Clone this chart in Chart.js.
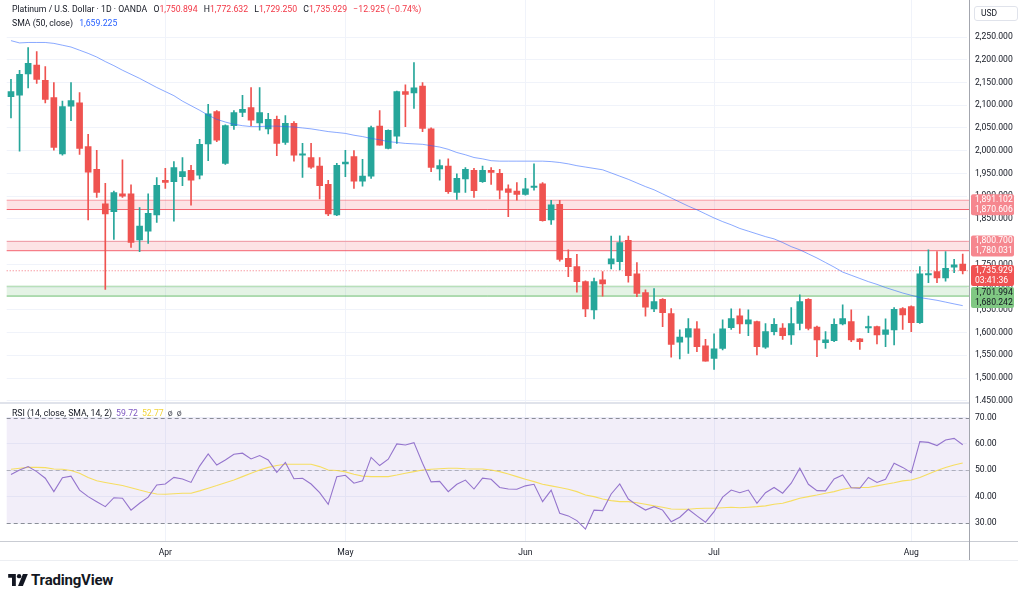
<!DOCTYPE html>
<html>
<head>
<meta charset="utf-8">
<script src="https://cdn.jsdelivr.net/npm/chart.js@4.4.1/dist/chart.umd.min.js"></script>
<style>
    html, body { margin: 0; padding: 0; background: #fff; }
    body { width: 1024px; height: 601px; position: relative; overflow: hidden; font-family: Roboto, 'Noto Sans', sans-serif; color: #131722; }
    #price-wrap { position: absolute; left: 0; top: 0; width: 1024px; height: 403px; }
    #rsi-wrap { position: absolute; left: 0; top: 403px; width: 1024px; height: 157px; }
    .legend { position: absolute; left: 12px; font-size: 8.7px; white-space: nowrap; line-height: 12px; }
    .legend span { margin-right: 4px; }
    .red { color: #f23645; }
    .blue { color: #2962ff; }
    .purple { color: #7e57c2; }
    .yellow { color: #f2d43a; }
    .line { position: absolute; }
    #usd { position: absolute; left: 974px; top: 6px; width: 44px; height: 15px; border: 1px solid #e0e3eb; border-radius: 3px; box-sizing: border-box; font-size: 8.5px; line-height: 13px; padding-left: 6px; }
    #logo { position: absolute; left: 8px; top: 572px; height: 16px; display: flex; align-items: center; }
    #logo span { font-weight: 700; font-size: 15px; letter-spacing: -0.2px; margin-left: 3px; color: #131722; }
</style>
</head>
<body>
<div id="price-wrap"><canvas id="price-chart"></canvas></div>
<div id="rsi-wrap"><canvas id="rsi-chart"></canvas></div>

<div class="line" style="left:0;top:402px;width:969px;height:2px;background:#e0e3eb;"></div>
<div class="line" style="left:0;top:541px;width:1018px;height:1px;background:#c9ccd3;"></div>
<div class="line" style="left:0;top:560px;width:1018px;height:1px;background:#eceef2;"></div>
<div class="line" style="left:969px;top:0;width:1px;height:560px;background:#a3a6ae;"></div>
<div id="usd">USD</div>

<div class="legend" style="top:3px;">
    <span>Platinum / U.S. Dollar · 1D · OANDA</span>
    <span>O<b class="red" style="font-weight:400">1,750.894</b></span>
    <span>H<b class="red" style="font-weight:400">1,772.632</b></span>
    <span>L<b class="red" style="font-weight:400">1,729.250</b></span>
    <span>C<b class="red" style="font-weight:400">1,735.929</b></span>
    <span class="red">−12.925 (−0.74%)</span>
</div>
<div class="legend" style="top:17px;">
    <span>SMA (50, close)</span> <span class="blue">1,659.225</span>
</div>
<div class="legend" style="top:407px;">
    <span>RSI (14, close, SMA, 14, 2)</span><span class="purple">59.72</span><span class="yellow">52.77</span><span style="color:#50535e">ø</span><span style="color:#50535e">ø</span>
</div>

<div id="logo">
    <svg width="20" height="12" viewBox="0 0 36 22">
        <path d="M0 0h14v22H7V7H0z" fill="#131722"/>
        <circle cx="20" cy="4" r="4" fill="#131722"/>
        <path d="M27 0h9l-9 22h-9z" fill="#131722"/>
    </svg>
    <span>TradingView</span>
</div>

<script>
// Trading days (2026)
const marDays = [6, 9, 10, 11, 12, 13, 16, 17, 18, 19, 20, 23, 24, 25, 26, 27, 30, 31];
const aprDays = [1, 2, 6, 7, 8, 9, 10, 13, 14, 15, 16, 17, 20, 21, 22, 23, 24, 27, 28, 29, 30];
const mayDays = [1, 4, 5, 6, 7, 8, 11, 12, 13, 14, 15, 18, 19, 20, 21, 22, 25, 26, 27, 28, 29];
const junDays = [1, 2, 3, 4, 5, 8, 9, 10, 11, 12, 15, 16, 17, 18, 19, 22, 23, 24, 25, 26, 29, 30];
const julDays = [1, 2, 3, 6, 7, 8, 9, 10, 13, 14, 15, 16, 17, 20, 21, 22, 23, 24, 27, 28, 29, 30, 31];
const augDays = [3, 4, 5, 6, 7, 10, 11];
const monthNames = ['Mar', 'Apr', 'May', 'Jun', 'Jul', 'Aug'];

// OHLC
const opens = [2119, 2122, 2169, 2188, 2155, 2117, 1993, 2098, 2105, 2009,
    1959, 1883, 1866, 1905, 1905, 1804, 1823, 1859, 1935, 1932,
    1943, 1957, 1946, 2015, 2086, 1972, 2055, 2084, 2095, 2061,
    2048, 2069, 2018, 2060, 1990, 1985, 1966, 1926, 1859, 1971,
    1987, 1933, 1944, 2054, 2005, 2032, 2130, 2127, 2142, 2048,
    1960, 1966, 1908, 1938, 1957, 1932, 1957, 1950, 1916, 1911,
    1904, 1919, 1927, 1848, 1882, 1763, 1745, 1712, 1650, 1716,
    1751, 1756, 1803, 1729, 1688, 1652, 1673, 1642, 1579, 1590,
    1608, 1571, 1543, 1565, 1611, 1637, 1619, 1624, 1568, 1602,
    1610, 1595, 1620, 1673, 1612, 1578, 1582, 1619, 1624, 1586,
    1610, 1613, 1596, 1606, 1653, 1657, 1622, 1727, 1734, 1720,
    1744, 1750.894];
const highs = [2157, 2177, 2227, 2218, 2185, 2150, 2109, 2150, 2128, 2036,
    2001, 1928, 1911, 1980, 1925, 1875, 1905, 1941, 1961, 1976,
    1985, 1968, 2025, 2102, 2088, 2057, 2088, 2122, 2139, 2139,
    2082, 2076, 2077, 2064, 2016, 2016, 1985, 1935, 1972, 2001,
    2000, 1981, 2054, 2088, 2046, 2131, 2145, 2194, 2150, 2050,
    1980, 1982, 1949, 1963, 1961, 1966, 1963, 1959, 1925, 1930,
    1939, 1971, 1930, 1891, 1891, 1782, 1772, 1714, 1720, 1734,
    1812, 1813, 1812, 1754, 1694, 1697, 1675, 1653, 1606, 1631,
    1624, 1585, 1597, 1628, 1652, 1652, 1650, 1625, 1620, 1631,
    1620, 1655, 1683, 1675, 1614, 1602, 1630, 1661, 1650, 1587,
    1636, 1614, 1630, 1655, 1655, 1659, 1745, 1782, 1778, 1778,
    1761, 1772.632];
const lows = [2072, 1999, 2138, 2148, 2105, 2001, 1990, 2066, 1992, 1848,
    1897, 1695, 1805, 1897, 1787, 1778, 1796, 1842, 1917, 1845,
    1923, 1880, 1938, 1978, 2020, 1970, 2047, 2075, 2055, 2045,
    2037, 1989, 2014, 1977, 1941, 1961, 1894, 1857, 1857, 1943,
    1917, 1922, 1939, 2012, 2004, 2016, 2053, 2093, 2042, 1954,
    1935, 1906, 1893, 1908, 1897, 1930, 1926, 1894, 1855, 1891,
    1902, 1913, 1845, 1838, 1757, 1723, 1689, 1635, 1630, 1680,
    1740, 1738, 1711, 1679, 1636, 1646, 1613, 1546, 1542, 1554,
    1558, 1537, 1519, 1562, 1607, 1598, 1593, 1551, 1565, 1595,
    1585, 1574, 1606, 1606, 1547, 1565, 1580, 1617, 1580, 1563,
    1600, 1575, 1569, 1573, 1607, 1602, 1620, 1710, 1710, 1713,
    1732, 1729.25];
const closes = [2130, 2168, 2192, 2157, 2113, 2007, 2097, 2110, 2005, 1953,
    1908, 1861, 1908, 1900, 1798, 1834, 1862, 1924, 1930, 1963,
    1954, 1935, 2014, 2081, 2023, 2055, 2084, 2091, 2067, 2084,
    2069, 2016, 2060, 1990, 1993, 1964, 1923, 1861, 1968, 1975,
    1933, 1944, 2051, 2012, 2045, 2130, 2124, 2138, 2049, 1963,
    1967, 1910, 1939, 1959, 1912, 1957, 1952, 1913, 1908, 1904,
    1916, 1922, 1846, 1881, 1761, 1745, 1712, 1652, 1712, 1707,
    1762, 1798, 1725, 1686, 1656, 1668, 1644, 1574, 1590, 1609,
    1569, 1537, 1564, 1608, 1631, 1619, 1628, 1569, 1602, 1618,
    1593, 1620, 1668, 1609, 1584, 1584, 1618, 1631, 1584, 1580,
    1613, 1595, 1606, 1651, 1639, 1622, 1729, 1730, 1720, 1741,
    1749, 1735.929];

// SMA (50, close)
const sma50 = [2242, 2237, 2238, 2238, 2238, 2236, 2232, 2228, 2221, 2214,
    2206, 2196, 2187, 2177, 2168, 2159, 2149, 2139, 2130, 2121,
    2109, 2099, 2089, 2078, 2069, 2063, 2058, 2055, 2053, 2053,
    2054, 2054, 2053, 2052, 2050, 2048, 2045, 2042, 2040, 2038,
    2034, 2031, 2027, 2024, 2020, 2018, 2016, 2015, 2014, 2011,
    2008, 2003, 1996, 1991, 1985, 1982, 1978, 1977, 1977, 1977,
    1977, 1977, 1977, 1976, 1974, 1971, 1967, 1964, 1961, 1958,
    1951, 1944, 1937, 1929, 1921, 1914, 1905, 1896, 1887, 1878,
    1870, 1861, 1852, 1844, 1837, 1829, 1823, 1817, 1811, 1806,
    1798, 1789, 1782, 1773, 1764, 1754, 1744, 1733, 1726, 1719,
    1712, 1706, 1699, 1693, 1687, 1682, 1677, 1674, 1671, 1667,
    1663, 1659.225];

// RSI (14) and its SMA (14)
const rsi14 = [48.4, 50.1, 51.4, 49.5, 47.0, 41.9, 47.2, 47.8, 42.5, 40.0,
    38.1, 36.2, 39.6, 39.4, 34.9, 37.5, 39.8, 44.4, 44.8, 47.3,
    46.7, 45.4, 51.6, 56.2, 52.0, 53.9, 56.1, 56.5, 54.3, 55.6,
    53.9, 49.2, 53.0, 46.8, 47.0, 44.8, 41.5, 37.1, 47.6, 48.1,
    45.1, 46.0, 54.9, 51.8, 54.2, 60.0, 59.6, 60.5, 52.7, 45.6,
    45.8, 41.9, 44.7, 46.3, 42.9, 47.0, 46.6, 43.5, 42.9, 42.8,
    44.1, 44.7, 38.1, 42.5, 33.7, 32.7, 30.9, 27.7, 34.9, 34.7,
    41.0, 44.8, 39.1, 36.8, 34.9, 36.2, 34.9, 30.5, 32.2, 35.2,
    32.7, 30.3, 34.3, 39.8, 42.5, 41.5, 42.5, 37.5, 41.5, 43.5,
    41.3, 45.1, 50.8, 44.7, 42.3, 42.2, 46.7, 48.2, 43.4, 43.2,
    47.3, 45.4, 46.6, 52.7, 51.1, 49.1, 60.9, 60.6, 59.4, 61.5,
    62.1, 59.72];
const rsiSma = [50.4, 50.8, 51.1, 51.1, 51.0, 50.5, 50.4, 49.9, 48.9, 47.3,
    46.0, 45.4, 44.8, 44.2, 43.4, 42.5, 41.7, 41.0, 40.9, 41.1,
    41.3, 41.3, 42.2, 43.2, 44.2, 45.3, 46.3, 47.6, 48.9, 50.1,
    51.1, 51.8, 52.3, 52.3, 52.3, 52.3, 51.4, 50.1, 49.9, 49.4,
    48.5, 47.8, 47.6, 47.6, 47.6, 48.2, 48.9, 49.5, 50.1, 50.4,
    50.6, 50.8, 50.8, 50.6, 50.5, 50.5, 50.1, 49.5, 48.6, 47.6,
    46.6, 45.7, 44.7, 44.1, 43.5, 42.8, 41.9, 40.6, 40.0, 39.1,
    38.5, 38.1, 38.1, 37.7, 37.1, 36.5, 36.0, 35.3, 35.2, 35.2,
    35.5, 35.6, 35.6, 35.8, 36.0, 35.8, 36.0, 36.2, 36.5, 37.1,
    37.5, 38.4, 39.4, 40.0, 40.6, 41.3, 41.9, 42.8, 43.4, 43.5,
    43.5, 44.1, 44.7, 45.3, 46.0, 46.3, 47.3, 48.6, 49.9, 51.1,
    52.0, 52.77];

// Zones, last price and axis ticks
const resistanceZones = [[1870.606, 1891.102], [1780.031, 1800.700]];
const supportZones = [[1680.242, 1701.994]];
const lastPrice = 1735.929;
const countdown = '03:41:36';
const priceTicks = [1450, 1500, 1550, 1600, 1650, 1700, 1750, 1800, 1850, 1900, 1950, 2000, 2050, 2100, 2150, 2200, 2250];
const rsiTicks = [30, 40, 50, 60, 70];
const rsiBands = [30, 50, 70];

// Build categories
const pad = n => (n < 10 ? '0' : '') + n;
const dates = [];
const monthStarts = {};
[marDays, aprDays, mayDays, junDays, julDays, augDays].forEach((days, m) => {
    monthStarts[dates.length] = monthNames[m];
    days.forEach(d => dates.push('2026-' + pad(m + 3) + '-' + pad(d)));
});
delete monthStarts[0]; // March starts before the visible range

const UP = '#26a69a';
const DOWN = '#ef5350';
const GRID = '#f0f3fa';
const candleColors = closes.map((c, i) => (c >= opens[i] ? UP : DOWN));

const fmt = (v, d) => v.toLocaleString('en-US', { minimumFractionDigits: d, maximumFractionDigits: d });
const FONT = { family: 'Roboto, "Noto Sans", sans-serif', size: 8.6 };

// Keep the plot area exactly where the panes are
const noPadX = h => s => { s.height = h; s.paddingLeft = 0; s.paddingRight = 0; };
const noPadY = s => { s.width = 57; s.paddingTop = 0; s.paddingBottom = 0; };

const xScaleBase = {
    type: 'category',
    offset: true,
    border: { display: false },
    grid: {
        offset: false,
        drawTicks: false,
        color: ctx => (monthStarts[ctx.index] ? GRID : 'rgba(0,0,0,0)')
    }
};

// Price pane plugin: zones and last price line
const zonesPlugin = {
    id: 'zones',
    beforeDatasetsDraw(chart) {
        const { ctx, chartArea, scales } = chart;
        const y = scales.y;
        const left = chartArea.left;
        const right = chartArea.right + 2;
        ctx.save();
        const drawZone = (zone, fill, topLine, bottomLine) => {
            const yTop = y.getPixelForValue(zone[1]);
            const yBot = y.getPixelForValue(zone[0]);
            ctx.fillStyle = fill;
            ctx.fillRect(left, yTop, right - left, yBot - yTop);
            ctx.lineWidth = 1;
            ctx.strokeStyle = topLine;
            ctx.beginPath(); ctx.moveTo(left, yTop); ctx.lineTo(right, yTop); ctx.stroke();
            ctx.strokeStyle = bottomLine;
            ctx.beginPath(); ctx.moveTo(left, yBot); ctx.lineTo(right, yBot); ctx.stroke();
        };
        resistanceZones.forEach(z => drawZone(z, 'rgba(242,54,69,0.14)', 'rgba(242,54,69,0.45)', 'rgba(242,54,69,0.75)'));
        supportZones.forEach(z => drawZone(z, 'rgba(76,175,80,0.15)', 'rgba(76,175,80,0.45)', 'rgba(76,175,80,0.8)'));

        const yLast = y.getPixelForValue(lastPrice);
        ctx.setLineDash([1, 2]);
        ctx.strokeStyle = 'rgba(242,54,69,0.7)';
        ctx.beginPath(); ctx.moveTo(left, yLast); ctx.lineTo(right, yLast); ctx.stroke();
        ctx.restore();
    }
};

// Price pane plugin: tags on the price scale
const tagsPlugin = {
    id: 'tags',
    afterDraw(chart) {
        const { ctx, scales } = chart;
        const y = scales.y;
        const x0 = 971;
        const w = 43;
        const h = 21;
        ctx.save();
        ctx.font = '8.6px Roboto, "Noto Sans", sans-serif';
        ctx.textBaseline = 'middle';
        ctx.textAlign = 'left';

        const box = (top, bg, lines, color) => {
            ctx.fillStyle = bg;
            ctx.beginPath();
            if (ctx.roundRect) ctx.roundRect(x0, top, w, h, 2); else ctx.rect(x0, top, w, h);
            ctx.fill();
            ctx.fillStyle = color;
            ctx.fillText(lines[0], x0 + 4, top + 5.6);
            ctx.fillText(lines[1], x0 + 4, top + 15.6);
        };

        resistanceZones.forEach(z => {
            const mid = (y.getPixelForValue(z[0]) + y.getPixelForValue(z[1])) / 2;
            box(mid - h / 2, '#f6878f', [fmt(z[1], 3), fmt(z[0], 3)], '#ffffff');
        });

        const lastTop = y.getPixelForValue(lastPrice) - 5.7;
        box(lastTop, '#f05252', [fmt(lastPrice, 3), countdown], '#ffffff');

        let prevBottom = lastTop + h;
        supportZones.forEach(z => {
            const mid = (y.getPixelForValue(z[0]) + y.getPixelForValue(z[1])) / 2;
            const top = Math.max(mid - h / 2, prevBottom + 1);
            box(top, '#80c883', [fmt(z[1], 3), fmt(z[0], 3)], '#131722');
            prevBottom = top + h;
        });
        ctx.restore();
    }
};

// RSI pane plugin: background band and dashed levels
const rsiBandPlugin = {
    id: 'rsiBand',
    beforeDatasetsDraw(chart) {
        const { ctx, chartArea, scales } = chart;
        const y = scales.y;
        const left = chartArea.left;
        const right = chartArea.right + 2;
        const yHi = y.getPixelForValue(rsiBands[2]);
        const yLo = y.getPixelForValue(rsiBands[0]);
        ctx.save();
        ctx.fillStyle = 'rgba(126,87,194,0.1)';
        ctx.fillRect(left, yHi, right - left, yLo - yHi);
        ctx.setLineDash([4, 3]);
        ctx.lineWidth = 1;
        rsiBands.forEach(v => {
            const py = Math.round(y.getPixelForValue(v)) + 0.5;
            ctx.strokeStyle = v === 50 ? 'rgba(120,123,134,0.5)' : 'rgba(120,123,134,0.85)';
            ctx.beginPath(); ctx.moveTo(left, py); ctx.lineTo(right, py); ctx.stroke();
        });
        ctx.restore();
    }
};

const priceChart = new Chart(document.getElementById('price-chart'), {
    type: 'bar',
    data: {
        labels: dates,
        datasets: [
            {
                type: 'line',
                label: 'SMA 50',
                data: sma50,
                borderColor: 'rgba(41,98,255,0.55)',
                borderWidth: 1,
                pointRadius: 0,
                tension: 0,
                order: 1
            },
            {
                label: 'Bodies',
                data: opens.map((o, i) => [o, closes[i]]),
                backgroundColor: candleColors,
                barThickness: 6,
                grouped: false,
                borderSkipped: false,
                order: 2
            },
            {
                label: 'Wicks',
                data: lows.map((l, i) => [l, highs[i]]),
                backgroundColor: candleColors,
                barThickness: 1,
                grouped: false,
                order: 3
            }
        ]
    },
    options: {
        responsive: true,
        maintainAspectRatio: false,
        animation: false,
        layout: { padding: { left: 6.7, right: 0, top: 0, bottom: 0 } },
        plugins: { legend: { display: false }, tooltip: { enabled: false } },
        scales: {
            x: Object.assign({}, xScaleBase, {
                ticks: { display: false, autoSkip: false },
                afterFit: noPadX(0)
            }),
            y: {
                position: 'right',
                min: 1445.1,
                max: 2331.4,
                border: { display: false },
                grid: { color: GRID, drawTicks: false },
                afterBuildTicks: s => { s.ticks = priceTicks.map(v => ({ value: v })); },
                afterFit: noPadY,
                ticks: {
                    padding: 8,
                    color: '#131722',
                    font: FONT,
                    callback: v => fmt(v, 3)
                }
            }
        }
    },
    plugins: [zonesPlugin, tagsPlugin]
});

const rsiChart = new Chart(document.getElementById('rsi-chart'), {
    type: 'line',
    data: {
        labels: dates,
        datasets: [
            {
                label: 'RSI',
                data: rsi14,
                borderColor: '#9575cd',
                borderWidth: 1.1,
                pointRadius: 0,
                tension: 0
            },
            {
                label: 'RSI SMA',
                data: rsiSma,
                borderColor: 'rgba(247,218,70,0.85)',
                borderWidth: 1.1,
                pointRadius: 0,
                tension: 0
            }
        ]
    },
    options: {
        responsive: true,
        maintainAspectRatio: false,
        animation: false,
        layout: { padding: { left: 6.7, right: 0, top: 0, bottom: 0 } },
        plugins: { legend: { display: false }, tooltip: { enabled: false } },
        scales: {
            x: Object.assign({}, xScaleBase, {
                ticks: {
                    autoSkip: false,
                    maxRotation: 0,
                    padding: 7,
                    color: '#131722',
                    font: FONT,
                    callback: (v, i) => monthStarts[i] || ''
                },
                afterFit: noPadX(19)
            }),
            y: {
                position: 'right',
                min: 23.17,
                max: 75.54,
                border: { display: false },
                grid: { color: GRID, drawTicks: false },
                afterBuildTicks: s => { s.ticks = rsiTicks.map(v => ({ value: v })); },
                afterFit: noPadY,
                ticks: {
                    padding: 8,
                    color: '#131722',
                    font: FONT,
                    callback: v => v.toFixed(2)
                }
            }
        }
    },
    plugins: [rsiBandPlugin]
});
</script>
</body>
</html>
